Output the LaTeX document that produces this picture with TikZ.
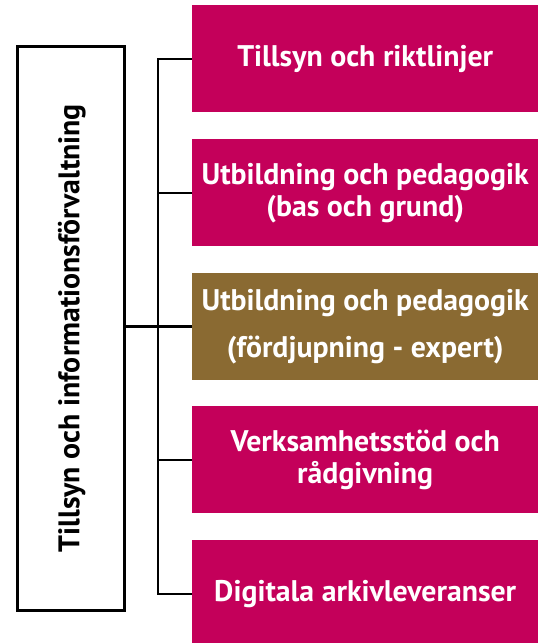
\documentclass[tikz,border=0pt]{standalone}
\usepackage{fontspec}
\setmainfont{PT Sans}
\definecolor{pinkbox}{RGB}{196,0,90}
\definecolor{brownbox}{RGB}{138,106,50}
\begin{document}
\begin{tikzpicture}[x=1pt,y=-1pt,
  itembox/.style={fill=pinkbox,draw=none,minimum width=346pt,minimum height=107pt,inner sep=0pt,
    text=white,font=\bfseries\fontsize{29.8}{32}\selectfont,align=center,anchor=north west},
  conn/.style={line width=2pt,black}]
\useasboundingbox (0,0) rectangle (539,643);
\node[draw=black,line width=2.5pt,minimum width=107pt,minimum height=564pt,anchor=north west,inner sep=0pt] (main) at (16,45) {};
\node[rotate=90,font=\bfseries\fontsize{29.8}{32}\selectfont] at ([xshift=1pt]main.center) {Tillsyn och informationsförvaltning};
\node[itembox] (b1) at (192,5) {Tillsyn och riktlinjer};
\node[itembox] (b2) at (192,139) {Utbildning och pedagogik\\(bas och grund)};
\node[itembox,fill=brownbox,font=\bfseries\fontsize{29.8}{47}\selectfont] (b3) at (192,273) {Utbildning och pedagogik\\(fördjupning - expert)};
\node[itembox] (b4) at (192,406) {Verksamhetsstöd och\\rådgivning};
\node[itembox] (b5) at (192,540) {Digitala arkivleveranser};
\coordinate (vtop) at (158,0 |- b1.west);
\coordinate (vbot) at (158,0 |- b5.west);
\draw[conn] (b1.west) -- (vtop) -- (vbot) -- (b5.west);
\draw[conn] (b2.west) -- (b2.west -| vtop);
\draw[conn] (b4.west) -- (b4.west -| vtop);
\draw[line width=3.5pt] (main.east |- b3.west) -- (b3.west);
\end{tikzpicture}
\end{document}
